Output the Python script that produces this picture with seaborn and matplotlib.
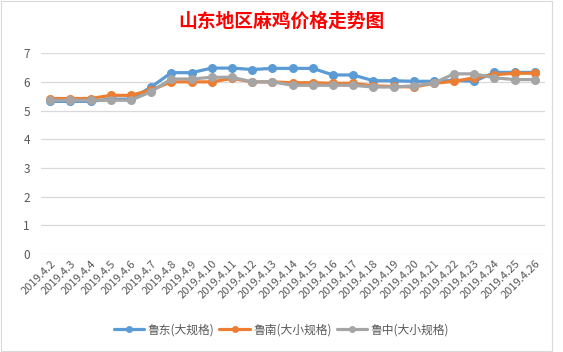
import matplotlib
matplotlib.use("Agg")
import matplotlib.pyplot as plt
import seaborn as sns
import pandas as pd

dates = ["2019.4.2", "2019.4.3", "2019.4.4", "2019.4.5", "2019.4.6", "2019.4.7", "2019.4.8",
         "2019.4.9", "2019.4.10", "2019.4.11", "2019.4.12", "2019.4.13", "2019.4.14", "2019.4.15",
         "2019.4.16", "2019.4.17", "2019.4.18", "2019.4.19", "2019.4.20", "2019.4.21", "2019.4.22",
         "2019.4.23", "2019.4.24", "2019.4.25", "2019.4.26"]
ludong = [5.32, 5.32, 5.32, 5.4, 5.4, 5.82, 6.32, 6.32, 6.48, 6.48, 6.43, 6.47, 6.47, 6.47,
          6.24, 6.24, 6.04, 6.04, 6.02, 6.02, 6.05, 6.02, 6.33, 6.33, 6.33]
lunan = [5.42, 5.42, 5.42, 5.53, 5.53, 5.72, 6.0, 6.0, 6.0, 6.12, 6.0, 6.0, 5.97, 5.97,
         5.95, 5.95, 5.86, 5.84, 5.82, 5.95, 6.02, 6.14, 6.25, 6.3, 6.3]
luzhong = [5.36, 5.36, 5.36, 5.36, 5.36, 5.66, 6.1, 6.1, 6.16, 6.16, 6.0, 6.0, 5.88, 5.88,
           5.88, 5.88, 5.82, 5.82, 5.86, 5.96, 6.28, 6.28, 6.14, 6.08, 6.08]
series_names = ["鲁东(大规格)", "鲁南(大小规格)", "鲁中(大小规格)"]
colors = ["#5B9BD5", "#ED7D31", "#A5A5A5"]
title = "山东地区麻鸡价格走势图"

rows = []
for name, vals in zip(series_names, [ludong, lunan, luzhong]):
    for i, v in enumerate(vals):
        rows.append({"idx": i, "price": v, "series": name})
df = pd.DataFrame(rows)

sns.set_theme(style="white")
plt.rcParams["font.family"] = ["Noto Sans CJK SC", "DejaVu Sans"]

fig = plt.figure(figsize=(5.63, 3.52), dpi=100)
ax = fig.add_axes([0.073, 0.278, 0.895, 0.571])

sns.lineplot(data=df, x="idx", y="price", hue="series", palette=colors,
             hue_order=series_names, marker="o", markersize=6.5, markeredgewidth=0,
             linewidth=2.3, ax=ax, sort=False, legend=True)

ax.set_xlim(-0.45, 24.5)
ax.set_ylim(0, 7)
ax.set_yticks(range(0, 8))
ax.set_xticks(range(len(dates)))
ax.set_xticklabels(dates, rotation=45, ha="right", rotation_mode="anchor",
                   fontsize=8, color="#595959")
ax.tick_params(axis="y", labelsize=8.5, labelcolor="#595959", length=0, pad=8)
ax.tick_params(axis="x", length=0, pad=3)
ax.grid(axis="y", color="#D9D9D9", linewidth=0.9)
ax.grid(axis="x", visible=False)
for s in ax.spines.values():
    s.set_visible(False)
ax.set_xlabel("")
ax.set_ylabel("")

handles, labels = ax.get_legend_handles_labels()
for h in handles:
    h.set_markersize(5)
ax.get_legend().remove()
fig.legend(handles, labels, loc="center", bbox_to_anchor=(0.5, 1 - 330 / 352), ncol=3,
           frameon=False, fontsize=8.5, handlelength=2.6, columnspacing=0.4,
           handletextpad=0.3, labelcolor="#595959")

fig.text(0.5, 1 - 21 / 352, title, ha="center", va="center", color="#FF0000",
         fontsize=13.5, fontweight="bold")

fig.patches.append(plt.Rectangle((0.002, 0.003), 0.978, 0.994, transform=fig.transFigure,
                                 fill=False, edgecolor="#D9D9D9", linewidth=0.8))

fig.savefig("out.png", dpi=100)
